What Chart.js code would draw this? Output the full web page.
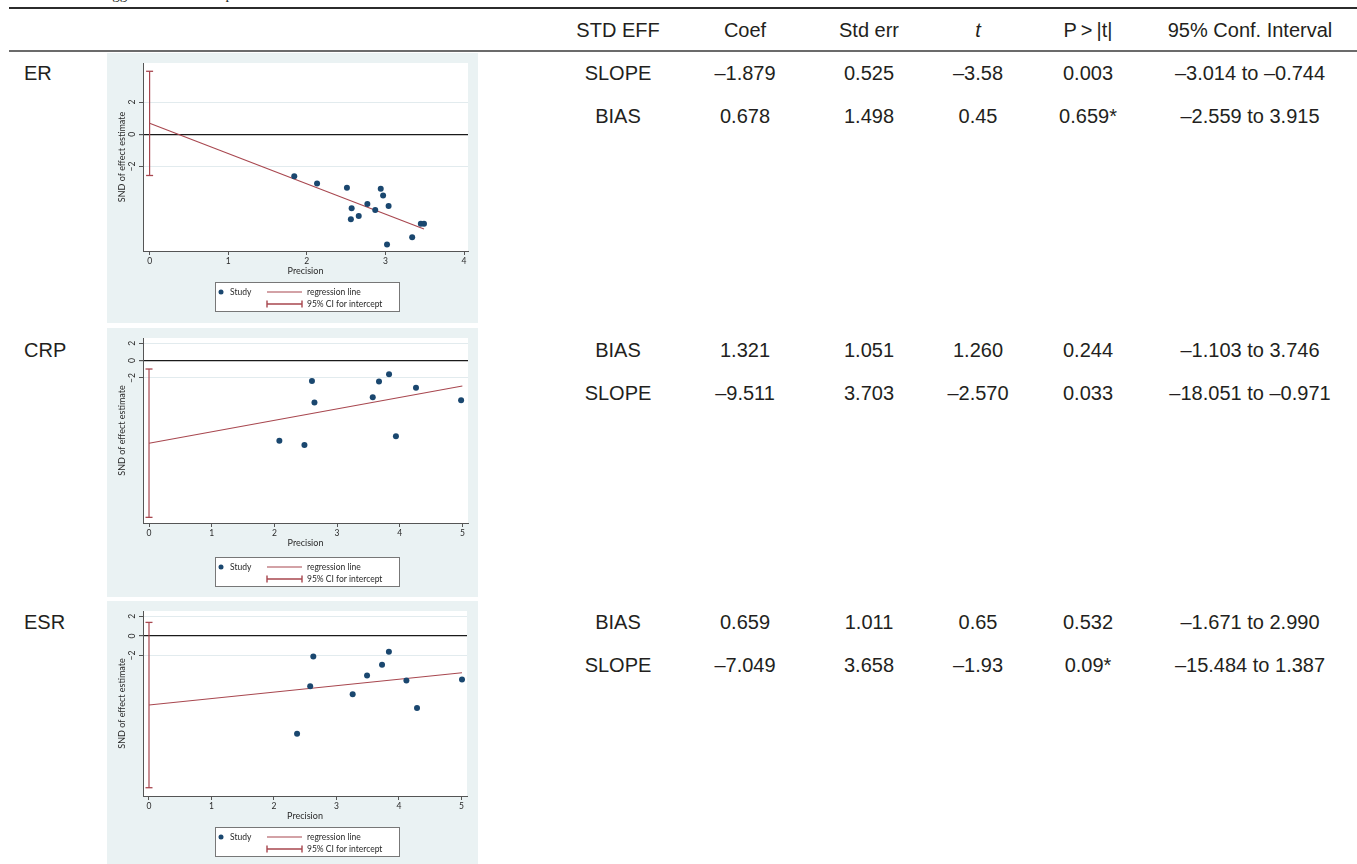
<!DOCTYPE html>
<html>
<head>
<meta charset="utf-8">
<script src="https://cdn.jsdelivr.net/npm/chart.js@4.4.1/dist/chart.umd.min.js"></script>
<style>
  body { margin: 0; width: 1357px; height: 864px; overflow: hidden; position: relative; background: #fff;
         font-family: "Liberation Sans", Arial, sans-serif; color: #231f20; }
  .caption { position: absolute; left: 103px; top: -13px; font: 15px "Liberation Serif", serif; line-height: 1; white-space: nowrap; }
  .rule { position: absolute; left: 9px; right: 0; }
  .cell { position: absolute; font-size: 20px; line-height: 1; white-space: nowrap; transform: translate(-50%, -50%); }
  .lab { position: absolute; left: 24px; font-size: 20px; line-height: 1; transform: translateY(-50%); }
  .panel { position: absolute; left: 107px; width: 371px; background: #eaf2f3; }
  .panel canvas { display: block; }
</style>
</head>
<body>
<div class="caption">Eggers test for each parameter</div>
<div class="rule" style="top:7px;height:2px;background:#2b2b2b"></div>
<div class="rule" style="top:50px;height:2px;background:#6b6b6b"></div>
<div id="table"></div>
<div class="panel" style="top:53px;height:270px"><canvas id="erPlot" width="371" height="270"></canvas></div>
<div class="panel" style="top:328px;height:269px"><canvas id="crpPlot" width="371" height="269"></canvas></div>
<div class="panel" style="top:601px;height:263px"><canvas id="esrPlot" width="371" height="263"></canvas></div>

<script>
// ---- table text ----
const headers = ['STD EFF', 'Coef', 'Std err', '<i>t</i>', 'P&#8201;&gt;&#8201;|t|', '95% Conf. Interval'];
const colX = [618, 745, 869, 978, 1088, 1250];
const groupNames = ['ER', 'CRP', 'ESR'];
const groupY = [[73, 116], [350, 393], [622, 665]];
const erRows = [
  ['SLOPE', '–1.879', '0.525', '–3.58', '0.003', '–3.014 to –0.744'],
  ['BIAS', '0.678', '1.498', '0.45', '0.659*', '–2.559 to 3.915']
];
const crpRows = [
  ['BIAS', '1.321', '1.051', '1.260', '0.244', '–1.103 to 3.746'],
  ['SLOPE', '–9.511', '3.703', '–2.570', '0.033', '–18.051 to –0.971']
];
const esrRows = [
  ['BIAS', '0.659', '1.011', '0.65', '0.532', '–1.671 to 2.990'],
  ['SLOPE', '–7.049', '3.658', '–1.93', '0.09*', '–15.484 to 1.387']
];

// ---- plot data (Precision vs SND of effect estimate) ----
const erX = [1.84, 2.13, 2.51, 2.57, 2.56, 2.66, 2.77, 2.87, 2.94, 2.97, 3.04, 3.02, 3.34, 3.45, 3.49];
const erY = [-2.61, -3.06, -3.32, -4.60, -5.27, -5.07, -4.33, -4.70, -3.39, -3.80, -4.45, -6.85, -6.40, -5.56, -5.56];
const erLineX = [0, 3.49];
const erLineY = [0.68, -5.88];
const erCI = [-2.559, 3.915];

const crpX = [2.08, 2.48, 2.60, 2.64, 3.57, 3.67, 3.83, 3.94, 4.26, 4.98];
const crpY = [-9.22, -9.72, -2.36, -4.84, -4.22, -2.40, -1.58, -8.72, -3.14, -4.57];
const crpLineX = [0, 5.0];
const crpLineY = [-9.51, -2.93];
const crpCI = [-18.051, -0.971];

const esrX = [2.37, 2.58, 2.63, 3.26, 3.49, 3.73, 3.84, 4.12, 4.29, 5.01];
const esrY = [-9.98, -5.13, -2.09, -5.95, -4.03, -2.94, -1.61, -4.55, -7.35, -4.44];
const esrLineX = [0, 5.01];
const esrLineY = [-7.05, -3.75];
const esrCI = [-15.484, 1.387];

const yTicks = [2, 0, -2];
const erXTicks = [0, 1, 2, 3, 4];
const fiveXTicks = [0, 1, 2, 3, 4, 5];

const NAVY = '#1a476f';
const MAROON = '#a8474f';
const AXIS = '#555';
const GRID = '#e2ebee';
const PANEL = '#eaf2f3';
const TXT = '#2a2a2a';

function buildTable() {
  const t = document.getElementById('table');
  let html = '';
  headers.forEach((h, i) => {
    html += `<div class="cell" style="left:${colX[i]}px;top:30px">${h}</div>`;
  });
  [erRows, crpRows, esrRows].forEach((rows, g) => {
    html += `<div class="lab" style="top:${groupY[g][0]}px">${groupNames[g]}</div>`;
    rows.forEach((r, k) => {
      r.forEach((v, i) => {
        html += `<div class="cell" style="left:${colX[i]}px;top:${groupY[g][k]}px">${v}</div>`;
      });
    });
  });
  t.innerHTML = html;
}

const steggerPlugin = {
  id: 'stataLook',
  beforeDraw(chart) {
    const { ctx, chartArea: a } = chart;
    ctx.save();
    ctx.fillStyle = PANEL;
    ctx.fillRect(0, 0, chart.width, chart.height);
    ctx.fillStyle = '#fff';
    ctx.fillRect(a.left, a.top, a.right - a.left, a.bottom - a.top);
    ctx.restore();
  },
  afterDraw(chart, args, opts) {
    const { ctx, chartArea: a } = chart;
    const ys = chart.scales.y;
    ctx.save();
    ctx.fillStyle = TXT;
    ctx.textAlign = 'center';
    ctx.textBaseline = 'middle';

    // rotated y tick labels
    ctx.font = '8.5px Lato';
    yTicks.forEach(v => {
      ctx.save();
      ctx.translate(a.left - 10.5, ys.getPixelForValue(v));
      ctx.rotate(-Math.PI / 2);
      ctx.fillText(v < 0 ? '\u2212' + Math.abs(v) : String(v), 0, 0);
      ctx.restore();
    });

    // axis titles
    ctx.font = '9px Lato';
    ctx.fillText('Precision', (a.left + a.right) / 2, a.bottom + 20);
    ctx.save();
    ctx.translate(a.left - 21, (a.top + a.bottom) / 2);
    ctx.rotate(-Math.PI / 2);
    ctx.fillText('SND of effect estimate', 0, 0);
    ctx.restore();

    // legend box
    const lx = 108, ly = opts.legendTop, lw = 185, lh = 30;
    ctx.fillStyle = '#fff';
    ctx.fillRect(lx, ly, lw, lh);
    ctx.strokeStyle = '#777';
    ctx.lineWidth = 1;
    ctx.strokeRect(lx + 0.5, ly + 0.5, lw - 1, lh - 1);

    const ds = chart.data.datasets;
    const r1 = ly + 10, r2 = ly + 22;
    ctx.fillStyle = ds[0].backgroundColor;
    ctx.beginPath();
    ctx.arc(lx + 6, r1, 2.5, 0, Math.PI * 2);
    ctx.fill();

    ctx.strokeStyle = ds[1].borderColor;
    ctx.lineWidth = 1.1;
    ctx.beginPath();
    ctx.moveTo(lx + 52, r1); ctx.lineTo(lx + 87, r1);
    ctx.stroke();

    ctx.strokeStyle = ds[2].borderColor;
    ctx.lineWidth = 1.4;
    ctx.beginPath();
    ctx.moveTo(lx + 52, r2); ctx.lineTo(lx + 87, r2);
    ctx.moveTo(lx + 52, r2 - 3.5); ctx.lineTo(lx + 52, r2 + 3.5);
    ctx.moveTo(lx + 87, r2 - 3.5); ctx.lineTo(lx + 87, r2 + 3.5);
    ctx.stroke();

    ctx.fillStyle = TXT;
    ctx.font = '8.5px Lato';
    ctx.textAlign = 'left';
    ctx.fillText('Study', lx + 15, r1);
    ctx.fillText('regression line', lx + 92, r1);
    ctx.fillText('95% CI for intercept', lx + 92, r2);
    ctx.restore();
  }
};

function createPlot(canvasId, cfg) {
  const ctx = document.getElementById(canvasId).getContext('2d');
  return new Chart(ctx, {
    data: {
      datasets: [
        {
          type: 'scatter', label: 'Study',
          data: cfg.x.map((v, i) => ({ x: v, y: cfg.y[i] })),
          backgroundColor: NAVY, borderWidth: 0, pointRadius: 3, pointHoverRadius: 3, order: 0
        },
        {
          type: 'line', label: 'regression line',
          data: cfg.lineX.map((v, i) => ({ x: v, y: cfg.lineY[i] })),
          borderColor: MAROON, borderWidth: 1.1, pointRadius: 0, fill: false, order: 1
        },
        {
          type: 'line', label: '95% CI for intercept',
          data: [{ x: 0, y: cfg.ci[0] }, { x: 0, y: cfg.ci[1] }],
          borderColor: MAROON, borderWidth: 1.2, fill: false, order: 2,
          pointStyle: 'line', pointRadius: 3.5, pointBorderColor: MAROON, pointBorderWidth: 1.3
        }
      ]
    },
    options: {
      responsive: false,
      animation: false,
      events: [],
      layout: { padding: { left: 16, right: cfg.padRight, top: 10, bottom: cfg.padBottom } },
      plugins: {
        legend: { display: false },
        tooltip: { enabled: false },
        stataLook: { legendTop: cfg.legendTop }
      },
      scales: {
        x: {
          type: 'linear', min: cfg.xMin, max: cfg.xMax,
          afterBuildTicks: s => { s.ticks = cfg.xTicks.map(v => ({ value: v })); },
          afterFit: s => { s.height = 30; },
          grid: { drawOnChartArea: false, drawTicks: true, tickLength: 4, tickColor: AXIS },
          border: { display: true, color: AXIS, width: 1 },
          ticks: { autoSkip: false, maxRotation: 0, padding: 1, color: TXT, font: { family: 'Lato', size: 8.5 } }
        },
        y: {
          type: 'linear', min: cfg.yMin, max: cfg.yMax,
          afterBuildTicks: s => { s.ticks = yTicks.map(v => ({ value: v })); },
          afterFit: s => { s.width = 20; },
          grid: {
            color: c => (c.tick && c.tick.value === 0) ? '#1a1a1a' : GRID,
            lineWidth: c => (c.tick && c.tick.value === 0) ? 1.2 : 1,
            tickLength: 4, tickColor: AXIS
          },
          border: { display: true, color: AXIS, width: 1 },
          ticks: { display: false }
        }
      }
    },
    plugins: [steggerPlugin]
  });
}

buildTable();

createPlot('erPlot', {
  x: erX, y: erY, lineX: erLineX, lineY: erLineY, ci: erCI,
  xMin: -0.084, xMax: 4.05, yMin: -7.25, yMax: 4.43, xTicks: erXTicks,
  padRight: 10, padBottom: 42, legendTop: 229
});
createPlot('crpPlot', {
  x: crpX, y: crpY, lineX: crpLineX, lineY: crpLineY, ci: crpCI,
  xMin: -0.096, xMax: 5.09, yMin: -18.7, yMax: 2.6, xTicks: fiveXTicks,
  padRight: 10, padBottom: 44, legendTop: 229
});
createPlot('esrPlot', {
  x: esrX, y: esrY, lineX: esrLineX, lineY: esrLineY, ci: esrCI,
  xMin: -0.096, xMax: 5.09, yMin: -16.33, yMax: 2.55, xTicks: fiveXTicks,
  padRight: 11, padBottom: 38, legendTop: 226
});
</script>
</body>
</html>
